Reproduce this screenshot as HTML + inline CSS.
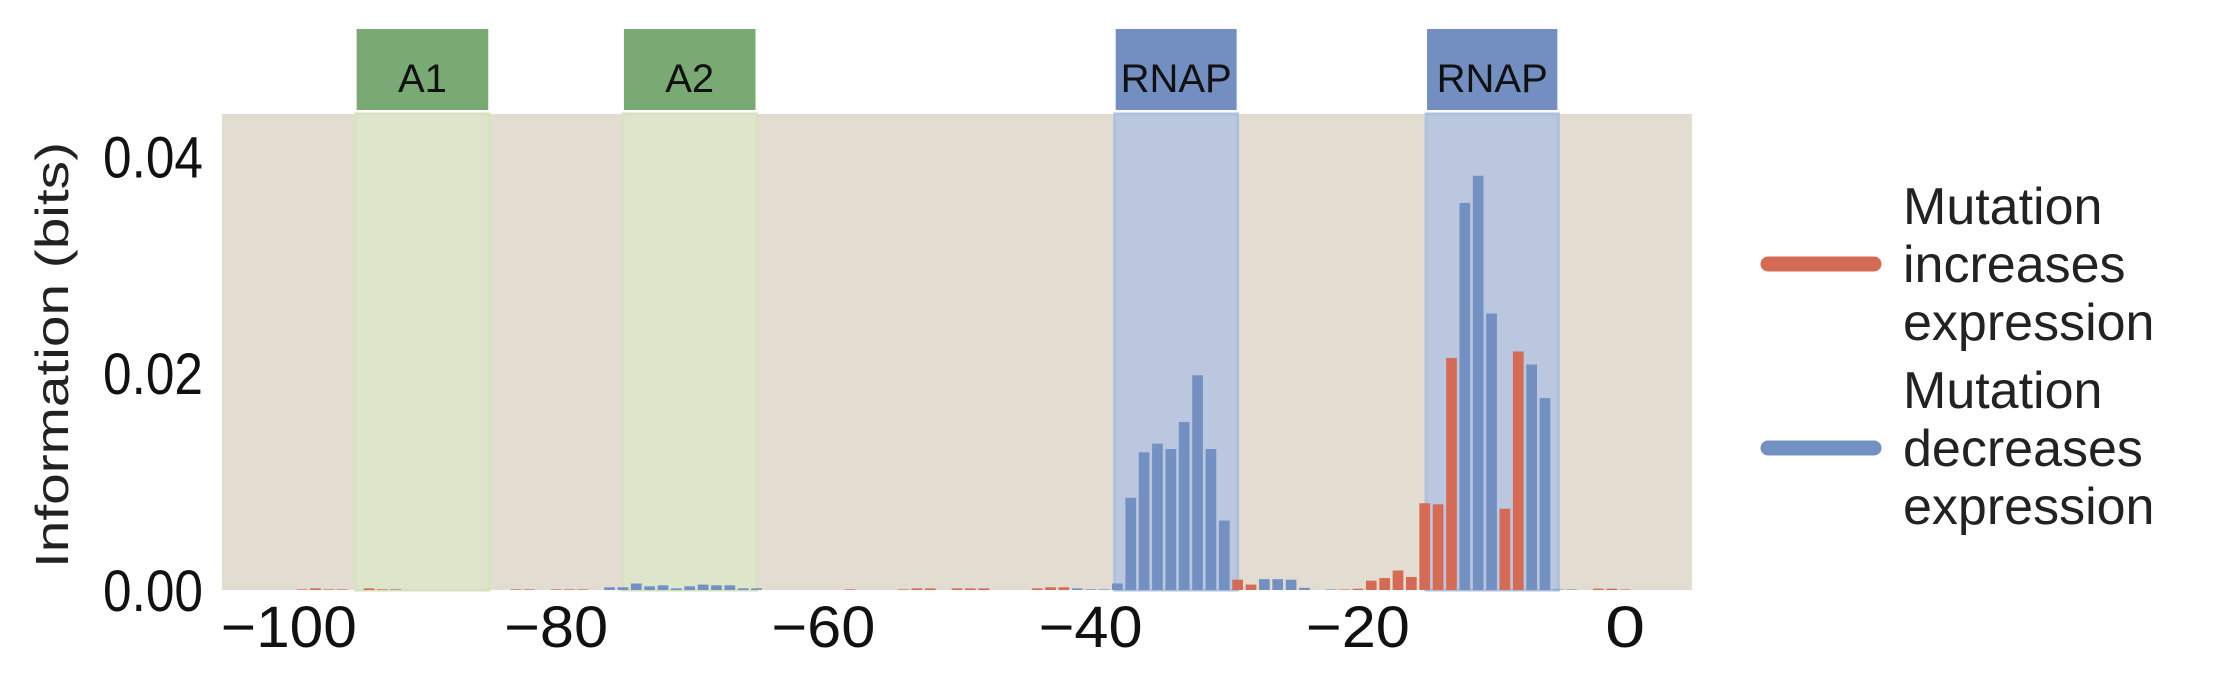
<!DOCTYPE html>
<html><head><meta charset="utf-8"><style>
html,body{margin:0;padding:0;background:#fff;}
svg{display:block;font-family:"Liberation Sans","DejaVu Sans",sans-serif;}
</style></head><body>
<svg id="chart" width="2214" height="684" viewBox="0 0 2214 684" xmlns="http://www.w3.org/2000/svg"></svg>
<script>
const positions=[-99,-98,-97,-96,-94,-93,-92,-83,-82,-80,-79,-78,-76,-75,-74,-73,-72,-71,-70,-69,-68,-67,-66,-65,-58,-54,-53,-52,-50,-49,-48,-44,-43,-42,-41,-40,-39,-38,-37,-36,-35,-34,-33,-32,-31,-30,-29,-28,-27,-26,-25,-24,-22,-21,-20,-19,-18,-17,-16,-15,-14,-13,-12,-11,-10,-9,-8,-7,-6,-5,-4,-2,-1,0];
const information=[0.00006,0.00015,0.00006,0.00006,0.00015,0.00006,0.00006,0.00006,0.00006,0.00006,0.00006,0.00006,0.00025,0.00025,0.0006,0.00034,0.00043,0.00015,0.00034,0.0005,0.00043,0.00043,0.00015,0.00015,0.00006,0.00006,0.00015,0.00015,0.00015,0.00015,0.00015,0.00015,0.00025,0.00025,0.00015,0.00006,0.00006,0.0006,0.0085,0.0127,0.0135,0.0130,0.0155,0.0198,0.0130,0.0064,0.00095,0.0005,0.001,0.001,0.00095,0.0002,0.00005,0.00005,0.00012,0.00086,0.0011,0.0018,0.0012,0.0080,0.0079,0.0214,0.0357,0.0382,0.0255,0.0075,0.0220,0.0208,0.0177,0.00005,0.00005,0.00012,0.00012,0.00005];
const effect=["inc","inc","inc","inc","inc","inc","inc","inc","inc","inc","inc","inc","dec","dec","dec","dec","dec","dec","dec","dec","dec","dec","dec","dec","inc","inc","inc","inc","inc","inc","inc","inc","inc","inc","dec","dec","dec","dec","dec","dec","dec","dec","dec","dec","dec","dec","inc","inc","dec","dec","dec","dec","dec","inc","inc","inc","inc","inc","inc","inc","inc","inc","dec","dec","dec","inc","inc","dec","dec","dec","dec","inc","inc","inc"];
const regionNames=["A1","A2","RNAP","RNAP"];
const regionStart=[-95,-75,-38.2,-14.9];
const regionEnd=[-85,-65,-29,-5];
const regionKind=["act","act","rnap","rnap"];
const xTicks=[-100,-80,-60,-40,-20,0];
const yTicks=[0,0.02,0.04];
const yTickLabels=["0.00","0.02","0.04"];

const NS="http://www.w3.org/2000/svg";
const svg=document.getElementById('chart');
const L=222,R=1692,T=114,B=590,XMIN=-105,XMAX=5,YMAX=0.0439;
const xs=v=>L+(v-XMIN)/(XMAX-XMIN)*(R-L);
const ys=v=>B-v/YMAX*(B-T);
function mk(tag,attrs,parent){const e=document.createElementNS(NS,tag);for(const k in attrs)e.setAttribute(k,attrs[k]);(parent||svg).appendChild(e);return e;}

const bg=mk('rect',{x:L,y:T,width:R-L,height:B-T,fill:'#E3DCD1'});



regionNames.forEach((n,i)=>{
  const x0=xs(regionStart[i]),x1=xs(regionEnd[i]);
  const act=regionKind[i]==='act';
  const sh=mk('rect',{x:x0,y:T,width:x1-x0,height:B-T,fill:act?'#DDE6CB':'#BAC7DE',stroke:act?'#D6E2C2':'#AFC0DD','stroke-width':3});
  
  
  const bx=mk('rect',{x:x0+1,y:29,width:x1-x0-2,height:81,fill:act?'#7AAA73':'#738FC1'});
  
  
  const t=mk('text',{x:(x0+x1)/2,y:92,'text-anchor':'middle','font-size':40,fill:'#111'});
  t.textContent=n;
  
  
});

const bw=(R-L)/(XMAX-XMIN)*0.8;
positions.forEach((p,i)=>{
  const y=ys(information[i]);
  const r=mk('rect',{x:xs(p)-bw/2,y:y,width:bw,height:B-y,fill:effect[i]==='inc'?'#D66B55':'#7290C1'});
  
  
});

xTicks.forEach(v=>{
  const s=(v<0?'\u2212':'')+Math.abs(v);
  const t=mk('text',{x:xs(v),y:647,'text-anchor':'middle','font-size':58,fill:'#111',textLength:(s.length*32+8),lengthAdjust:'spacingAndGlyphs'});
  t.textContent=s;
  
  
});
yTicks.forEach((v,i)=>{
  const t=mk('text',{x:203,y:ys(v)+21,'text-anchor':'end','font-size':58,fill:'#111',textLength:100,lengthAdjust:'spacingAndGlyphs'});
  t.textContent=yTickLabels[i];
  
  
});
const yl=mk('text',{x:0,y:0,transform:'translate(68,355) rotate(-90)','text-anchor':'middle','font-size':46,fill:'#222',textLength:426,lengthAdjust:'spacingAndGlyphs'});
yl.textContent='Information (bits)';



const legend=[{c:'#D66B55',y:264,base:224,lines:['Mutation','increases','expression'],n:'legend-entry-increases'},{c:'#7290C1',y:448,base:408,lines:['Mutation','decreases','expression'],n:'legend-entry-decreases'}];
legend.forEach(e=>{
  const g=mk('g',{});
  
  
  mk('line',{x1:1768,x2:1874,y1:e.y,y2:e.y,stroke:e.c,'stroke-width':15,'stroke-linecap':'round'},g);
  e.lines.forEach((s,k)=>{const t=mk('text',{x:1903,y:e.base+k*58,'font-size':52,fill:'#222'},g);t.textContent=s;});
});
</script>
</body></html>
